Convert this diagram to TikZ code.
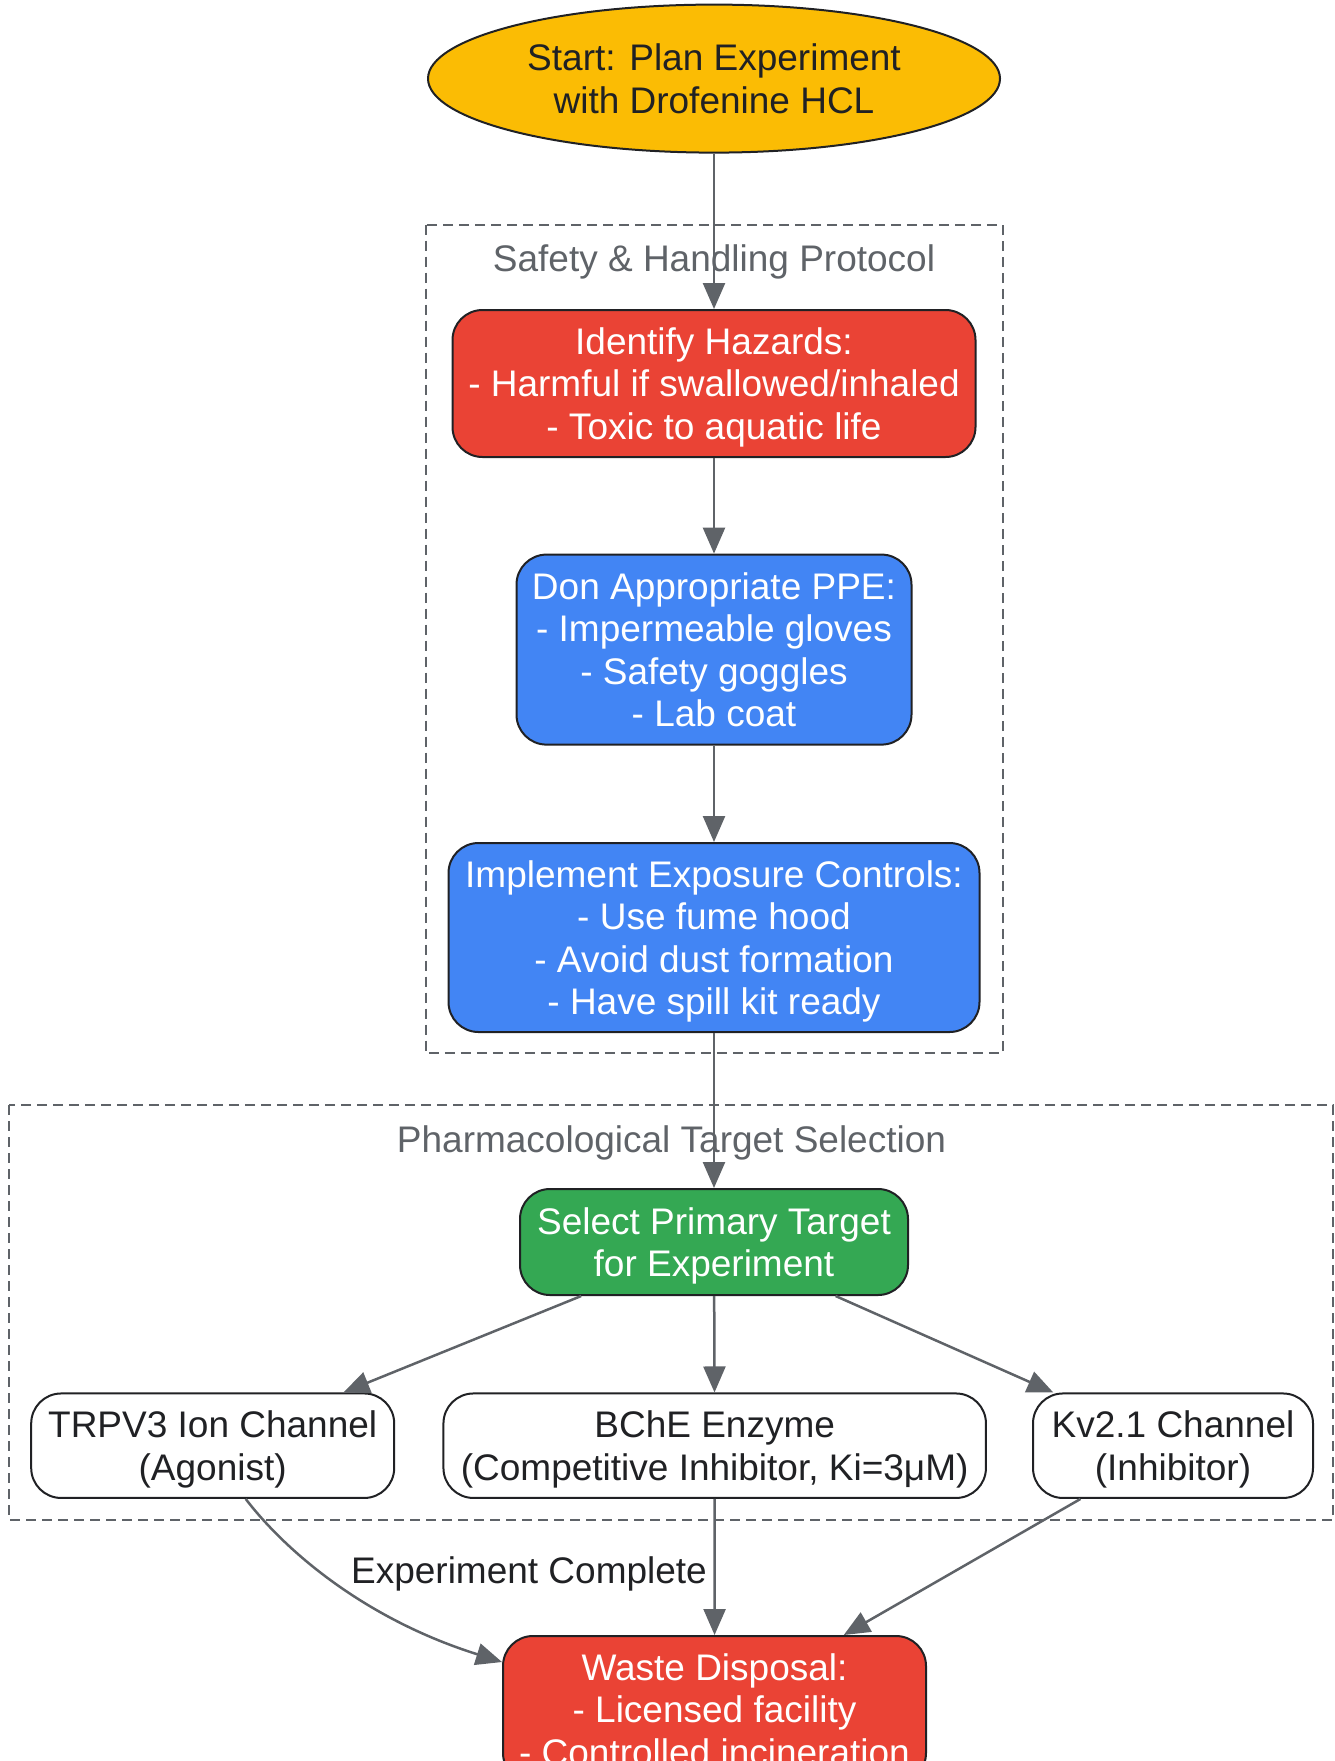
\documentclass[tikz,border=0pt]{standalone}
\usepackage{fontspec}
\setmainfont{Liberation Sans}
\usetikzlibrary{arrows.meta,shapes.geometric}
\definecolor{startyellow}{HTML}{FBBC04}
\definecolor{hazardred}{HTML}{EA4335}
\definecolor{ppeblue}{HTML}{4285F4}
\definecolor{targetgreen}{HTML}{34A853}
\definecolor{linegray}{HTML}{5F6368}
\definecolor{inkdark}{HTML}{202124}

\begin{document}
\begin{tikzpicture}[x=1pt, y=-1pt,
  every node/.style={font=\fontsize{37}{42.5}\selectfont, align=center, inner sep=0pt},
  box/.style={draw=inkdark, line width=2pt, rounded corners=30pt, text depth=-3.5pt},
  flow/.style={draw=linegray, line width=2.5pt, -{Triangle[length=26pt,width=22pt]}},
  cluster/.style={draw=linegray, line width=2pt, dash pattern=on 10pt off 6pt},
  clustertitle/.style={text=linegray}]
\useasboundingbox (0,0) rectangle (1334,1761);
\clip (0,0) rectangle (1334,1761);

% Group boxes
\draw[cluster] (425.6,224.6) rectangle (1002.7,1053.3);
\node[clustertitle] (safetytitle) at (714,261.5) {Safety \& Handling Protocol};
\draw[cluster] (9,1105) rectangle (1333,1520);
\node[clustertitle] (pharmtitle) at (671.5,1142.5) {Pharmacological Target Selection};

% Start
\node[ellipse, draw=inkdark, line width=2pt, fill=startyellow, text=inkdark, text depth=-3.5pt,
      minimum width=572pt, minimum height=148pt] (start) at (714,78.6)
      {Start: Plan Experiment\\with Drofenine HCL};

% Safety steps
\node[box, fill=hazardred, text=white, minimum width=523pt, minimum height=147pt]
      (hazards) at (714,383.5)
      {Identify Hazards:\\- Harmful if swallowed/inhaled\\- Toxic to aquatic life};
\node[box, fill=ppeblue, text=white, minimum width=395pt, minimum height=190pt]
      (ppe) at (714,649.6)
      {Don Appropriate PPE:\\- Impermeable gloves\\- Safety goggles\\- Lab coat};
\node[box, fill=ppeblue, text=white, minimum width=531pt, minimum height=189pt]
      (controls) at (714,937.5)
      {Implement Exposure Controls:\\- Use fume hood\\- Avoid dust formation\\- Have spill kit ready};

% Targets
\node[box, fill=targetgreen, text=white, minimum width=388pt, minimum height=106pt]
      (select) at (714,1242) {Select Primary Target\\for Experiment};
\node[box, fill=white, text=inkdark, minimum width=363pt, minimum height=104.5pt]
      (trpv3) at (212.7,1445.7) {TRPV3 Ion Channel\\(Agonist)};
\node[box, fill=white, text=inkdark, minimum width=542.5pt, minimum height=104.5pt]
      (bche) at (714.7,1445.7) {BChE Enzyme\\(Competitive Inhibitor, Ki=3μM)};
\node[box, fill=white, text=inkdark, minimum width=280pt, minimum height=104.5pt]
      (kv21) at (1173,1445.7) {Kv2.1 Channel\\(Inhibitor)};

% Disposal
\node[box, fill=hazardred, text=white, minimum width=423pt, minimum height=147pt]
      (waste) at (714.5,1709.5)
      {Waste Disposal:\\- Licensed facility\\- Controlled incineration};

% Connectors
\draw[flow] (start) -- (hazards);
\draw[flow] (hazards) -- (ppe);
\draw[flow] (ppe) -- (controls);
\draw[flow] (controls) -- (select);
\draw[flow] (select) -- (trpv3);
\draw[flow] (select) -- (bche);
\draw[flow] (select) -- (kv21);
\draw[flow] ([xshift=33pt]trpv3.south) .. controls (288,1554) and (368,1620) .. ([yshift=-27pt]waste.north west);
\node[text=inkdark] (donelabel) at (529,1573.5) {Experiment Complete};
\draw[flow] (bche) -- (waste);
\draw[flow] (kv21) -- (waste);

\end{tikzpicture}
\end{document}
